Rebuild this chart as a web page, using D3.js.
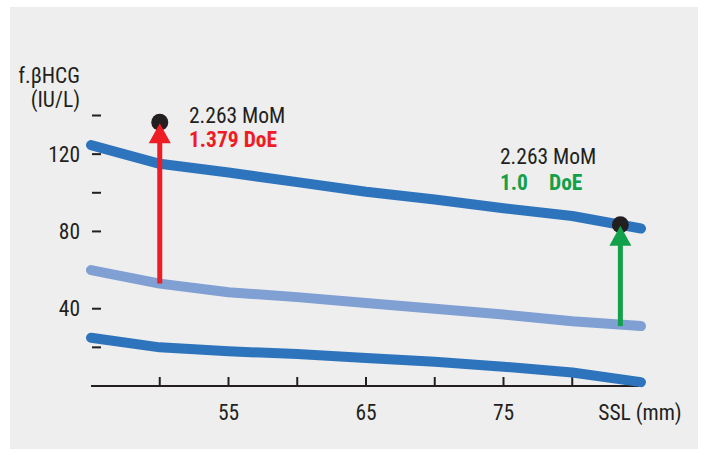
<!DOCTYPE html>
<html><head><meta charset="utf-8">
<script src="https://cdn.jsdelivr.net/npm/d3@7"></script>
<style>
html,body{margin:0;padding:0;background:#fff;}
text{font-family:"Liberation Sans Narrow","Roboto Condensed","Liberation Sans",sans-serif;}
</style></head>
<body><svg id="c" width="708" height="455"></svg>
<script>
const ssl = [45, 50, 55, 60, 65, 70, 75, 80, 85];
const upperLine = [124.7, 115, 110.5, 105.5, 100.5, 96.5, 92, 88, 81.5];
const medianLine = [60, 53, 48.5, 46, 43, 40, 37, 33.5, 31];
const lowerLine = [25, 20, 18, 16.5, 14.5, 12.5, 10, 7, 2];
const xTicks = [50, 55, 60, 65, 70, 75, 80];
const xTickLabels = ["", "55", "", "65", "", "75", ""];
const yTicks = [20, 40, 60, 80, 100, 120, 140];
const yTickLabels = ["", "40", "", "80", "", "120", ""];
const markers = [
  {x: 50, from: 53, to: 136.5, color: "#ee1c25", mom: "2.263 MoM", doe: ["1.379 DoE"]},
  {x: 83.5, from: 31, to: 83.5, color: "#13a04a", mom: "2.263 MoM", doe: ["1.0", "DoE"]}
];

const FS = 21.5;
const svg = d3.select("#c");
svg.append("rect").attr("x", 10).attr("y", 7).attr("width", 688).attr("height", 442).attr("fill", "#eeeeee");

const x = d3.scaleLinear().domain([45, 85]).range([91, 641]);
const y = d3.scaleLinear().domain([0, 140]).range([386, 115.5]);

// x axis
const xa = svg.append("g").attr("transform", "translate(0,386)");
xa.append("line").attr("x1", x(45)).attr("x2", x(85) - 2).attr("stroke", "#231f20").attr("stroke-width", 2);
xa.selectAll("line.t").data(xTicks).enter().append("line").attr("class", "t")
  .attr("x1", d => x(d)).attr("x2", d => x(d)).attr("y1", 0).attr("y2", -9)
  .attr("stroke", "#231f20").attr("stroke-width", 2);
xa.selectAll("text").data(xTicks).enter().append("text")
  .attr("x", d => x(d)).attr("y", 34).attr("text-anchor", "middle")
  .attr("font-size", FS).attr("fill", "#231f20")
  .text((d, i) => xTickLabels[i]);
svg.append("text").attr("x", 640).attr("y", 420).attr("text-anchor", "middle")
  .attr("font-size", FS).attr("fill", "#231f20").text("SSL (mm)");

// y ticks
const ya = svg.append("g");
ya.selectAll("line").data(yTicks).enter().append("line")
  .attr("x1", 92).attr("x2", 101).attr("y1", d => y(d)).attr("y2", d => y(d))
  .attr("stroke", "#231f20").attr("stroke-width", 2);
ya.selectAll("text").data(yTicks).enter().append("text")
  .attr("x", 80).attr("y", d => y(d)).attr("dy", "0.35em").attr("text-anchor", "end")
  .attr("font-size", FS).attr("fill", "#231f20")
  .text((d, i) => yTickLabels[i]);
svg.append("text").attr("x", 80).attr("y", 83).attr("text-anchor", "end")
  .attr("font-size", FS).attr("fill", "#231f20").text("f.βHCG");
svg.append("text").attr("x", 80).attr("y", 107).attr("text-anchor", "end")
  .attr("font-size", FS).attr("fill", "#231f20").text("(IU/L)");

// lines
const line = d3.line().x((d, i) => x(ssl[i])).y(d => y(d));
[[upperLine, "#2e74bd"], [medianLine, "#809fd3"], [lowerLine, "#2e74bd"]].forEach(([data, col]) => {
  svg.append("path").attr("d", line(data)).attr("fill", "none").attr("stroke", col)
    .attr("stroke-width", 10).attr("stroke-linecap", "round").attr("stroke-linejoin", "round");
});

// markers
markers.forEach((m, k) => {
  const cx = x(m.x), cy = y(m.to);
  svg.append("circle").attr("cx", cx).attr("cy", cy).attr("r", 8.5).attr("fill", "#231f20");
  svg.append("line").attr("x1", cx).attr("x2", cx).attr("y1", y(m.from)).attr("y2", cy + 18)
    .attr("stroke", m.color).attr("stroke-width", 5);
  svg.append("path").attr("d", `M${cx},${cy + 1}L${cx - 11},${cy + 21}L${cx + 11},${cy + 21}Z`).attr("fill", m.color);
});
// annotations
svg.append("text").attr("x", 189).attr("y", 123).attr("font-size", FS).attr("fill", "#231f20").text(markers[0].mom);
svg.append("text").attr("x", 189).attr("y", 147).attr("font-size", FS).attr("font-weight", "bold").attr("fill", markers[0].color).text(markers[0].doe[0]);
svg.append("text").attr("x", 500).attr("y", 164).attr("font-size", FS).attr("fill", "#231f20").text(markers[1].mom);
svg.append("text").attr("x", 500).attr("y", 190).attr("font-size", FS).attr("font-weight", "bold").attr("fill", markers[1].color).text(markers[1].doe[0]);
svg.append("text").attr("x", 549).attr("y", 190).attr("font-size", FS).attr("font-weight", "bold").attr("fill", markers[1].color).text(markers[1].doe[1]);
</script></body></html>
